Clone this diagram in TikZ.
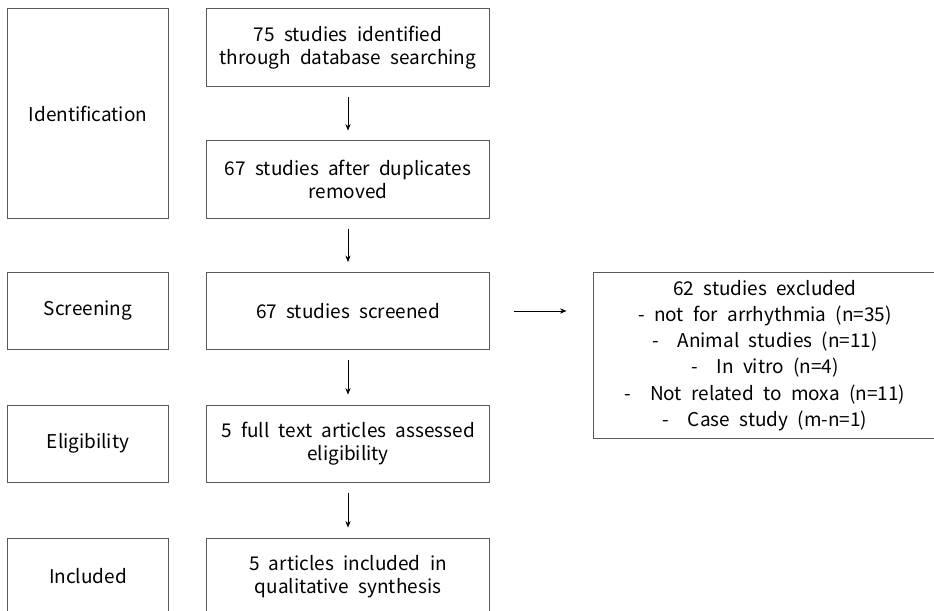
\documentclass[tikz,border=0pt]{standalone}
\usepackage{fontspec}
\setmainfont[WordSpace=2.2]{Noto Sans CJK KR}
\usetikzlibrary{arrows.meta,positioning}

\begin{document}
\begin{tikzpicture}[x=0.025cm,y=-0.025cm,font=\fontsize{13.5}{16}\selectfont,box/.style={draw=black!65,line width=0.7pt,align=center,inner sep=0pt},stage/.style={box,minimum width=4cm,minimum height=1.925cm},flow/.style={box,minimum width=7.05cm,minimum height=1.925cm},->,>={Stealth[length=1.6mm,width=1.3mm]}]
\useasboundingbox (0,0) rectangle (934,611);
\clip (0,0) rectangle (934,611);
% stages
\node[stage,minimum height=5.225cm](ident) at (88,113.5){Identification};
\node[stage](screen) at (88,311){Screening};
\node[stage](elig) at (88,443.5){Eligibility};
\node[stage](incl) at (88,576.5){Included};
% flow
\node[flow](found) at (348,47.5){75 studies identified\\through database searching};
\node[flow](dedup) at (348,179.5){67 studies after duplicates\\removed};
\node[flow](screened) at (348,311){67 studies screened};
\node[flow](assessed) at (348,443.5){5 full text articles assessed\\eligibility};
\node[flow](included) at (348,576.5){5 articles included in\\qualitative synthesis};
\node[box,minimum width=8.55cm,minimum height=4.125cm,font=\fontsize{13.5}{18.7}\selectfont](excl) at (765,355.5){62 studies excluded\\- not for arrhythmia (n=35)\\-\ \ Animal studies (n=11)\\-\ \ In vitro (n=4)\\-\ \ Not related to moxa (n=11)\\-\ \ Case study (m-n=1)};
\draw[shorten <=2.5mm,shorten >=2.5mm](found)--(dedup);\draw[shorten <=2.5mm,shorten >=2.5mm](dedup)--(screened);\draw[shorten <=2.5mm,shorten >=2.5mm](screened)--(assessed);\draw[shorten <=2.5mm,shorten >=2.5mm](assessed)--(included);
\draw[shorten <=6mm,shorten >=6.75mm](screened.east)--(screened.east-|excl.west);
\end{tikzpicture}
\end{document}
